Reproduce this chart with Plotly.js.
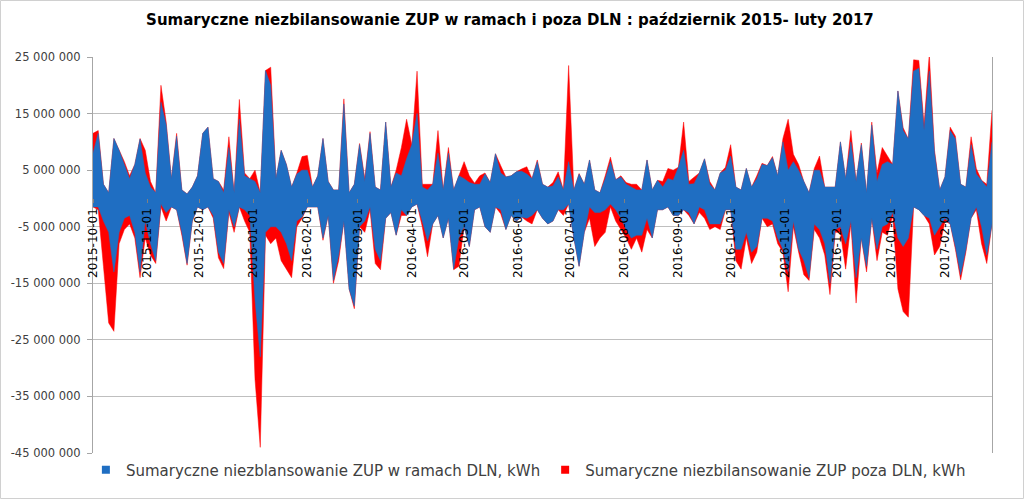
<!DOCTYPE html>
<html><head><meta charset="utf-8">
<script src="https://cdn.plot.ly/plotly-3.0.1.min.js"></script>
<style>html,body{margin:0;padding:0;background:#fff;overflow:hidden}</style>
</head><body><div id="chart" style="width:1024px;height:499px"></div>
<script>
// Daily imbalance envelopes, every 3rd day, in millions kWh
const startDate = '2015-10-01';
const stepDays = 3;
const UNIT = 1e6;

const bluePos = [8,11.5,2.5,1,10.6,8.5,6,3.5,6,10.5,4.5,2,1,17,13,3.5,11,1.5,0.8,2,4,11.5,12.6,3.5,3,1,9,1,14,4,
3.5,3,1,22.6,20,3.5,8.5,6,2,4.3,5,5,2,4,10.6,3,1.5,1.5,16.7,1,2.5,9.5,3,11.5,2,1.5,13.5,2,4.5,4,
7,9.5,15,2,1.5,2.5,8,1.5,8,1.5,4,3.5,2.8,2.5,2.5,4.3,2.8,7.9,4.5,3.8,4,4.7,4.8,4.3,3.5,6.5,2.5,2,2.2,3.8,
1.5,6.5,1.5,4.3,2.5,6.8,1.5,1,3.5,6.5,3.3,3.8,2.5,2,1.5,1.5,6.8,1.5,3.2,2,3.5,3.2,5.5,8.5,2.5,2.6,4.5,7,
2.5,1.5,4.5,5,7.5,2,1.5,5.3,2,3.5,6,5.8,7.2,4,10,5,6.5,5,3,1,5,5,2,2,2,10,3.5,10,3,9.5,1,13,3,6,6.5,6,
19,12,10.5,22.5,23,12,22.5,8,1.5,3.8,12,10.5,2.5,2,9.5,4.3,3.2,2,10];

const redPos = [11.5,12,2.5,1,10.6,8.5,6.5,4,6,10.6,8.5,3,1,20,13.5,3.5,11.5,1.5,0.8,2,4,11.5,12.6,3.5,3,1.5,10.9,1,17.5,4.5,
3.5,5,1,22.6,23.2,3.5,8.5,6,2,4.5,7.4,7.6,2,4,10.6,3,1.5,1.5,17.6,1,2.5,9.7,3.5,11.8,2,1.5,13.5,2,5,9,
14,9.5,22.5,2.5,2.5,2.5,12,1.5,9,1.5,4,6.5,4,2.7,4,4.5,2.8,7.9,5.8,3.8,4,4.7,5.2,5.6,3.5,6.8,2.5,2,2.8,4.7,
1.5,23.5,1.5,4.4,2.5,6.8,1.5,1,4,7.3,3.3,4,2.8,2.5,2.5,1.5,6.8,1.5,3.2,3,5.3,5,5.5,13.5,3,3.8,4.5,7,
3,1.5,4.5,5.5,9.5,2,1.5,5.3,2,4,6.2,5.8,7.4,4,10.6,14,7.8,6,3,1,5.3,7.5,2,2,2,10,3.5,12,3,9.8,1,13.5,4.5,9,7.5,6,
19,12.5,10.5,24.5,24.4,13,25.5,8.5,1.5,3.8,12.6,11,2.5,2,10.9,5.3,3.2,2.5,15.6];

const blueNeg = [-1.5,-1.5,-4,-6,-13,-6,-3.5,-3,-6,-13,-4,-8,-11,-1,-2.5,-1.5,-2,-6,-11.5,-4,-1.5,-2,-1.5,-3,-9.5,-11.5,-2,-5,-1.5,-2,
-3,-18,-28,-6,-5,-5,-6,-8,-11,-4,-3.3,-1.5,-1.5,-1.5,-7,-3,-14.5,-10,-4,-16,-19,-5,-4,-1.5,-9,-11,-3.5,-2.5,-6.5,-2,
-3,-1.5,-1,-4,-7.5,-4.5,-3,-7,-3.5,-12.5,-7,-5,-8.5,-2,-1.5,-5,-6,-1.5,-2,-5.5,-3,-4,-3.3,-3.5,-3,-2,-3.5,-4.5,-4,-2,
-2,-1,-7,-12,-6,-1.5,-2.5,-2.5,-2,-1,-2,-3.5,-5.5,-7,-6.5,-6.5,-3.5,-7,-2,-2,-1.5,-3,-3,-2,-2.5,-4.5,-1.5,-2,
-4.5,-4.5,-4.5,-2,-2,-9,-9,-6,-9.5,-8.5,-3.5,-3.5,-4,-7,-9,-13,-4,-9,-11,-14,-4.5,-5.5,-8,-15,-5.5,-5,-8,-4,-14,-7,-12,-3.5,-9,-5,-4.5,-2.5,
-7,-8.5,-7,-1.5,-2,-3,-3.5,-6.5,-5,-3.5,-4.5,-8.5,-13.5,-9,-3.5,-1.5,-5,-10,-4.5];

const redNeg = [-1.5,-2,-12,-22,-23.5,-8,-5.5,-4.5,-7,-14,-7,-10,-11.5,-1.5,-4,-1.5,-2,-6.5,-11.8,-4,-1.5,-2,-1.5,-3.5,-10.5,-12.4,-2.5,-6,-1.5,-4,
-6,-32,-44,-6.5,-8,-7,-11,-12.6,-14,-5,-3.5,-1.5,-1.5,-1.5,-7.4,-3,-15,-11,-4,-16,-19.5,-5,-6,-2,-11.5,-12.6,-3.5,-2.5,-6.5,-3,
-3,-1.5,-1,-5,-10.3,-4.5,-3,-7,-3.5,-12.6,-12,-5,-8.5,-2,-1.5,-5,-6,-1.5,-2.7,-5.5,-3,-4,-3.3,-4,-4.5,-2,-3.5,-4.5,-4,-2,
-3,-1,-7,-12,-6,-3.5,-8.5,-7,-6,-1.5,-4,-5.5,-7,-9,-7,-9.5,-5.5,-7,-2,-2,-1.5,-3,-3,-2,-3,-4.5,-2.5,-3.5,
-5.5,-5,-5.5,-2,-2,-11,-12.5,-7,-11.5,-9.5,-3.5,-5,-4.5,-8,-9.5,-16.5,-5,-9.5,-13.5,-14.5,-5.5,-7,-10,-17,-6,-6,-12.5,-4.5,-18.5,-7,-13,-3.5,-11,-6,-6.5,-3,
-16,-20,-21,-1.5,-2,-3,-4.5,-10,-8.5,-4,-4.5,-9,-14.4,-9.5,-3.5,-2,-8,-11.5,-4.5];

const seriesNames = ['Sumaryczne niezblansowanie ZUP w ramach DLN, kWh', 'Sumaryczne niezbilansowanie ZUP poza DLN, kWh'];
const monthTicks = ['2015-10-01','2015-11-01','2015-12-01','2016-01-01','2016-02-01','2016-03-01','2016-04-01','2016-05-01','2016-06-01',
'2016-07-01','2016-08-01','2016-09-01','2016-10-01','2016-11-01','2016-12-01','2017-01-01','2017-02-01'];
const yTickVals = [25e6, 15e6, 5e6, -5e6, -15e6, -25e6, -35e6, -45e6];
const yTickText = ['25 000 000','15 000 000','5 000 000','-5 000 000','-15 000 000','-25 000 000','-35 000 000','-45 000 000'];

const BLUE = '#1f6ec2', RED = '#ff0000';
const dates = bluePos.map((_, i) => {
  const d = new Date(startDate + 'T00:00:00Z');
  d.setUTCDate(d.getUTCDate() + i * stepDays);
  return d.toISOString().slice(0, 10);
});
const scale = a => a.map(v => v * UNIT);
// upper envelope (line only) followed by lower envelope filled to it: one seamless band per series
function upper(vals, color) {
  return {type:'scatter', mode:'lines', x:dates, y:scale(vals), fill:'none',
    line:{color:color, width:0.5}, showlegend:false, hoverinfo:'skip'};
}
function lower(vals, color) {
  return {type:'scatter', mode:'lines', x:dates, y:scale(vals), fill:'tonexty', fillcolor:color,
    line:{color:color, width:0.5}, showlegend:false, hoverinfo:'skip'};
}
const traces = [
  upper(redPos, RED), lower(redNeg, RED), upper(bluePos, BLUE), lower(blueNeg, BLUE),
  {type:'scatter', mode:'markers', x:[null], y:[null], name:seriesNames[0], marker:{symbol:'square', size:8, color:BLUE}},
  {type:'scatter', mode:'markers', x:[null], y:[null], name:seriesNames[1], marker:{symbol:'square', size:8, color:RED}}
];
const W = 899, H = 396;
const layout = {
  width:1024, height:499,
  margin:{l:93, r:32, t:57, b:46},
  paper_bgcolor:'#fff', plot_bgcolor:'#fff',
  font:{family:'DejaVu Sans', color:'#404040'},
  title:{text:'Sumaryczne niezbilansowanie ZUP w ramach i poza DLN : październik 2015- luty 2017',
    font:{family:'DejaVu Sans', size:15, color:'#000', weight:'bold'}, x:0.498, xanchor:'center', y:0.96, yanchor:'middle'},
  xaxis:{type:'date', range:[dates[0], dates[dates.length-1]], anchor:'free', position:45/70,
    tickvals:monthTicks, ticktext:monthTicks, tickangle:-90, tickfont:{size:12, color:'#000'},
    ticks:'outside', ticklen:4, tickcolor:'#808080', showgrid:false, showline:false, zeroline:false},
  yaxis:{range:[-45e6, 25e6], tickvals:yTickVals, ticktext:yTickText, tickfont:{size:11.5, color:'#404040'},
    ticks:'outside', ticklen:5, tickcolor:'#a6a6a6', ticklabelstandoff:4,
    showgrid:true, gridcolor:'#bfbfbf', gridwidth:1, zeroline:false, showline:true, linecolor:'#a6a6a6', mirror:true},
  legend:{orientation:'h', traceorder:'normal', xref:'container', x:0.516, xanchor:'center', yref:'container', y:0.058, yanchor:'middle',
    font:{size:15, color:'#404040'}, itemwidth:30, tracegroupgap:0},
  shapes:[{type:'rect', xref:'paper', yref:'paper', x0:(0.5-93)/W, x1:(1023.5-93)/W, y0:(453-498.5)/H, y1:(453-0.5)/H,
    line:{color:'#d0d0d0', width:1}}],
  showlegend:true, hovermode:false
};
Plotly.newPlot('chart', traces, layout, {displayModeBar:false, staticPlot:true});
</script></body></html>
